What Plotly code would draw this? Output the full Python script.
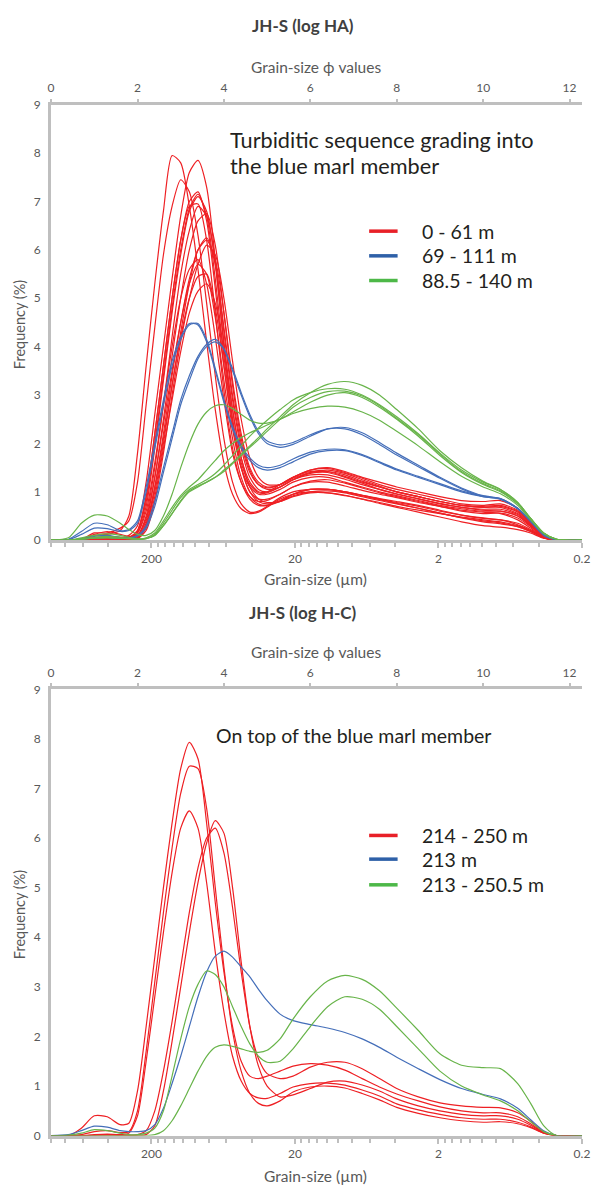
import numpy as np
import plotly.graph_objects as go

# ---------------- data ----------------
# phi grid (grain size in phi units) shared by all curves
PHI = [0, 0.4, 0.7, 1.0, 1.3, 1.6, 1.8,
       2.0, 2.2, 2.4, 2.6, 2.8, 3.0, 3.2, 3.4, 3.6, 3.8,
       4.0, 4.2, 4.4, 4.6, 4.8, 5.0, 5.3, 5.6,
       6.0, 6.4, 6.8, 7.2, 7.6, 8.0, 8.5, 9.0,
       9.5, 10.0, 10.4, 10.8, 11.1, 11.4, 11.7, 12.29]

# Panel 1 : JH-S (log HA)
HA_RED = [
    [0, 0, 0.02, 0.1, 0.12, 0.2, 0.5, 1.8, 3.6, 5.3, 6.8, 7.95, 7.8, 6.9, 5.6, 4.1, 2.7, 1.6, 0.95, 0.65, 0.55, 0.58, 0.68, 0.85, 0.95, 1.0, 0.98, 0.92, 0.85, 0.78, 0.7, 0.62, 0.55, 0.48, 0.42, 0.38, 0.3, 0.2, 0.05, 0, 0],
    [0, 0, 0.02, 0.15, 0.15, 0.25, 0.4, 1.2, 2.8, 4.4, 5.9, 6.9, 7.45, 7.2, 6.3, 4.9, 3.4, 2.1, 1.2, 0.75, 0.58, 0.6, 0.7, 0.88, 1.0, 1.05, 1.05, 1.0, 0.93, 0.85, 0.78, 0.7, 0.6, 0.52, 0.46, 0.42, 0.32, 0.2, 0.05, 0, 0],
    [0, 0, 0, 0.05, 0.05, 0.05, 0.1, 0.3, 1.2, 2.6, 4.0, 5.4, 6.7, 7.6, 7.85, 7.3, 5.8, 4.0, 2.5, 1.5, 1.0, 0.85, 0.85, 0.95, 1.1, 1.2, 1.2, 1.12, 1.03, 0.95, 0.88, 0.78, 0.7, 0.62, 0.58, 0.55, 0.42, 0.25, 0.06, 0, 0],
    [0, 0, 0, 0, 0, 0.02, 0.05, 0.2, 0.9, 2.2, 3.6, 5.0, 6.2, 7.0, 7.2, 6.6, 5.2, 3.6, 2.3, 1.5, 1.1, 0.95, 0.95, 1.05, 1.2, 1.3, 1.3, 1.2, 1.1, 1.0, 0.92, 0.82, 0.72, 0.65, 0.6, 0.6, 0.5, 0.3, 0.08, 0, 0],
    [0, 0, 0, 0, 0, 0, 0.02, 0.15, 0.7, 1.9, 3.3, 4.7, 5.9, 6.8, 7.1, 6.8, 5.7, 4.1, 2.7, 1.7, 1.2, 1.0, 1.0, 1.15, 1.3, 1.42, 1.42, 1.32, 1.2, 1.1, 1.0, 0.9, 0.8, 0.72, 0.68, 0.68, 0.55, 0.32, 0.08, 0, 0],
    [0, 0, 0, 0.02, 0.03, 0.02, 0.03, 0.1, 0.5, 1.5, 2.8, 4.2, 5.5, 6.4, 6.9, 6.7, 5.8, 4.3, 2.9, 1.9, 1.3, 1.05, 1.0, 1.1, 1.25, 1.38, 1.4, 1.3, 1.18, 1.05, 0.95, 0.85, 0.75, 0.68, 0.62, 0.6, 0.5, 0.3, 0.08, 0, 0],
    [0, 0, 0, 0, 0, 0, 0.02, 0.08, 0.4, 1.3, 2.5, 3.8, 5.0, 6.0, 6.6, 6.75, 6.1, 4.7, 3.2, 2.1, 1.45, 1.15, 1.05, 1.1, 1.25, 1.4, 1.45, 1.38, 1.25, 1.12, 1.0, 0.9, 0.8, 0.72, 0.7, 0.72, 0.6, 0.35, 0.1, 0, 0],
    [0, 0, 0, 0, 0, 0, 0.01, 0.05, 0.3, 1.1, 2.2, 3.4, 4.5, 5.4, 6.0, 6.2, 5.8, 4.7, 3.3, 2.2, 1.5, 1.2, 1.1, 1.15, 1.3, 1.45, 1.48, 1.4, 1.28, 1.15, 1.05, 0.95, 0.85, 0.75, 0.72, 0.75, 0.62, 0.36, 0.1, 0, 0],
    [0, 0, 0, 0, 0, 0, 0, 0.03, 0.2, 0.8, 1.8, 3.0, 4.1, 5.0, 5.7, 6.1, 5.9, 5.0, 3.7, 2.5, 1.7, 1.3, 1.15, 1.15, 1.28, 1.4, 1.42, 1.35, 1.22, 1.1, 1.0, 0.9, 0.8, 0.72, 0.68, 0.7, 0.58, 0.34, 0.09, 0, 0],
    [0, 0, 0.02, 0.12, 0.18, 0.12, 0.08, 0.1, 0.45, 1.3, 2.4, 3.5, 4.5, 5.3, 5.7, 5.5, 4.6, 3.3, 2.1, 1.3, 0.9, 0.75, 0.72, 0.8, 0.95, 1.05, 1.05, 1.0, 0.93, 0.86, 0.8, 0.72, 0.62, 0.52, 0.45, 0.42, 0.35, 0.22, 0.06, 0, 0],
    [0, 0, 0, 0.03, 0.05, 0.03, 0.03, 0.05, 0.35, 1.1, 2.1, 3.2, 4.2, 5.0, 5.45, 5.5, 4.8, 3.6, 2.4, 1.5, 1.0, 0.8, 0.75, 0.8, 0.92, 1.0, 1.02, 0.98, 0.9, 0.82, 0.75, 0.66, 0.56, 0.46, 0.38, 0.34, 0.28, 0.18, 0.05, 0, 0],
    [0, 0, 0, 0, 0, 0, 0, 0.04, 0.25, 0.9, 1.9, 2.9, 3.9, 4.7, 5.15, 5.3, 4.9, 3.9, 2.7, 1.7, 1.1, 0.85, 0.78, 0.8, 0.9, 0.98, 0.98, 0.93, 0.85, 0.76, 0.68, 0.58, 0.48, 0.38, 0.3, 0.27, 0.22, 0.15, 0.04, 0, 0],
    [0, 0, 0, 0.05, 0.08, 0.06, 0.06, 0.2, 0.9, 2.2, 3.6, 5.0, 6.2, 6.9, 6.95, 6.2, 4.7, 3.1, 1.9, 1.2, 0.85, 0.72, 0.72, 0.82, 0.95, 1.05, 1.05, 1.0, 0.92, 0.84, 0.76, 0.66, 0.56, 0.47, 0.4, 0.36, 0.28, 0.18, 0.05, 0, 0],
    [0, 0, 0, 0, 0, 0, 0.01, 0.05, 0.3, 1.0, 2.0, 3.2, 4.3, 5.3, 6.0, 6.25, 5.7, 4.4, 3.0, 2.0, 1.4, 1.15, 1.08, 1.15, 1.3, 1.45, 1.5, 1.42, 1.3, 1.2, 1.1, 1.0, 0.9, 0.82, 0.8, 0.82, 0.66, 0.38, 0.1, 0, 0],
    [0, 0, 0, 0, 0, 0, 0.03, 0.15, 0.6, 1.6, 2.8, 4.0, 5.0, 5.6, 5.8, 5.3, 4.2, 2.9, 1.8, 1.2, 0.9, 0.8, 0.82, 0.95, 1.1, 1.22, 1.25, 1.18, 1.08, 0.98, 0.9, 0.8, 0.7, 0.6, 0.55, 0.56, 0.46, 0.28, 0.07, 0, 0],
    [0, 0, 0, 0, 0, 0, 0.02, 0.18, 0.8, 2.0, 3.4, 4.8, 6.0, 6.85, 7.15, 6.7, 5.4, 3.8, 2.5, 1.6, 1.15, 0.98, 0.98, 1.1, 1.25, 1.35, 1.35, 1.26, 1.15, 1.05, 0.96, 0.86, 0.76, 0.68, 0.64, 0.64, 0.53, 0.31, 0.08, 0, 0],
]
HA_BLUE = [
    [0, 0.02, 0.18, 0.35, 0.32, 0.2, 0.22, 0.4, 1.1, 2.0, 2.9, 3.7, 4.2, 4.48, 4.45, 4.1, 3.5, 2.85, 2.3, 1.9, 1.65, 1.5, 1.45, 1.5, 1.62, 1.78, 1.85, 1.85, 1.75, 1.6, 1.45, 1.3, 1.15, 1.0, 0.9, 0.85, 0.65, 0.38, 0.1, 0.01, 0],
    [0, 0.01, 0.12, 0.25, 0.24, 0.18, 0.2, 0.35, 1.0, 1.9, 2.8, 3.6, 4.15, 4.45, 4.48, 4.15, 3.55, 2.9, 2.35, 1.95, 1.7, 1.55, 1.5, 1.55, 1.68, 1.82, 1.88, 1.87, 1.77, 1.62, 1.47, 1.32, 1.17, 1.02, 0.91, 0.86, 0.66, 0.39, 0.11, 0.01, 0],
    [0, 0, 0.03, 0.08, 0.1, 0.06, 0.05, 0.1, 0.3, 0.8, 1.5, 2.2, 2.9, 3.4, 3.8, 4.05, 4.15, 3.95, 3.5, 3.0, 2.55, 2.2, 2.0, 1.92, 1.98, 2.15, 2.3, 2.33, 2.22, 2.02, 1.8, 1.55, 1.3, 1.08, 0.92, 0.86, 0.66, 0.4, 0.12, 0.01, 0],
    [0, 0, 0.02, 0.05, 0.06, 0.04, 0.04, 0.08, 0.25, 0.7, 1.4, 2.1, 2.8, 3.3, 3.75, 4.0, 4.1, 3.95, 3.55, 3.05, 2.6, 2.25, 2.05, 1.97, 2.02, 2.18, 2.3, 2.3, 2.18, 1.98, 1.76, 1.52, 1.28, 1.06, 0.9, 0.85, 0.65, 0.4, 0.12, 0.01, 0],
]
HA_GREEN = [
    [0, 0.05, 0.35, 0.52, 0.5, 0.35, 0.22, 0.12, 0.1, 0.2, 0.5, 0.95, 1.5, 2.0, 2.4, 2.65, 2.78, 2.8, 2.72, 2.6, 2.48, 2.42, 2.42, 2.5, 2.65, 2.85, 3.0, 3.05, 2.95, 2.75, 2.5, 2.15, 1.75, 1.4, 1.15, 1.0, 0.75, 0.45, 0.15, 0.02, 0],
    [0, 0, 0.05, 0.1, 0.13, 0.1, 0.06, 0.03, 0.04, 0.1, 0.3, 0.55, 0.8, 1.0, 1.1, 1.2, 1.3, 1.45, 1.6, 1.78, 1.95, 2.12, 2.3, 2.55, 2.8, 3.05, 3.22, 3.28, 3.2, 3.0, 2.7, 2.3, 1.85, 1.5, 1.22, 1.05, 0.78, 0.45, 0.15, 0.02, 0],
    [0, 0, 0.03, 0.06, 0.08, 0.06, 0.04, 0.02, 0.03, 0.12, 0.35, 0.62, 0.88, 1.05, 1.15, 1.25, 1.38, 1.55, 1.75, 1.95, 2.15, 2.32, 2.48, 2.7, 2.9, 3.05, 3.13, 3.12, 3.0, 2.8, 2.55, 2.2, 1.8, 1.45, 1.2, 1.05, 0.78, 0.45, 0.15, 0.02, 0],
    [0, 0, 0.02, 0.04, 0.05, 0.04, 0.03, 0.02, 0.03, 0.1, 0.3, 0.55, 0.82, 1.02, 1.12, 1.2, 1.3, 1.42, 1.58, 1.75, 1.92, 2.08, 2.25, 2.5, 2.75, 2.95, 3.07, 3.08, 2.98, 2.78, 2.52, 2.18, 1.78, 1.42, 1.17, 1.02, 0.76, 0.44, 0.14, 0.02, 0],
    [0, 0, 0.02, 0.05, 0.06, 0.04, 0.03, 0.02, 0.05, 0.15, 0.4, 0.68, 0.92, 1.1, 1.25, 1.45, 1.65, 1.85, 2.0, 2.12, 2.22, 2.3, 2.38, 2.5, 2.62, 2.72, 2.77, 2.75, 2.65, 2.48, 2.25, 1.95, 1.62, 1.32, 1.1, 0.96, 0.72, 0.42, 0.14, 0.02, 0],
]

# Panel 2 : JH-S (log H-C)
HC_RED = [
    [0, 0, 0.15, 0.4, 0.38, 0.22, 0.25, 0.9, 2.2, 3.6, 5.0, 6.3, 7.4, 7.93, 7.6, 6.3, 4.7, 3.3, 2.2, 1.5, 1.2, 1.15, 1.2, 1.3, 1.4, 1.45, 1.42, 1.32, 1.15, 0.98, 0.84, 0.7, 0.58, 0.5, 0.46, 0.46, 0.38, 0.24, 0.07, 0, 0],
    [0, 0, 0.02, 0.08, 0.1, 0.06, 0.08, 0.5, 1.7, 3.1, 4.5, 5.8, 6.9, 7.45, 7.4, 6.6, 5.0, 3.4, 2.1, 1.3, 0.85, 0.65, 0.6, 0.7, 0.88, 0.98, 1.0, 0.96, 0.85, 0.72, 0.57, 0.45, 0.36, 0.3, 0.27, 0.28, 0.24, 0.16, 0.05, 0, 0],
    [0, 0, 0, 0.02, 0.03, 0.02, 0.05, 0.4, 1.5, 2.8, 4.1, 5.3, 6.2, 6.55, 6.2, 5.1, 3.7, 2.5, 1.6, 1.1, 0.85, 0.76, 0.75, 0.85, 0.98, 1.05, 1.06, 1.02, 0.92, 0.8, 0.64, 0.52, 0.43, 0.36, 0.33, 0.33, 0.27, 0.18, 0.05, 0, 0],
    [0, 0, 0, 0, 0, 0, 0, 0, 0.02, 0.2, 0.9, 1.9, 3.0, 4.1, 5.1, 5.9, 6.35, 6.1, 5.0, 3.5, 2.2, 1.4, 1.0, 0.78, 0.82, 0.95, 1.08, 1.1, 1.02, 0.9, 0.74, 0.6, 0.5, 0.43, 0.4, 0.4, 0.33, 0.21, 0.06, 0, 0],
    [0, 0, 0, 0.01, 0.02, 0.01, 0.01, 0.02, 0.1, 0.5, 1.3, 2.3, 3.4, 4.5, 5.4, 6.0, 6.2, 5.7, 4.6, 3.3, 2.2, 1.55, 1.25, 1.15, 1.2, 1.38, 1.48, 1.48, 1.35, 1.15, 0.95, 0.78, 0.66, 0.6, 0.57, 0.56, 0.46, 0.29, 0.08, 0, 0],
]
HC_BLUE = [
    [0, 0.02, 0.1, 0.19, 0.17, 0.1, 0.08, 0.08, 0.1, 0.22, 0.55, 1.05, 1.6, 2.2, 2.8, 3.3, 3.62, 3.72, 3.6, 3.4, 3.2, 2.95, 2.72, 2.45, 2.32, 2.24, 2.17, 2.08, 1.95, 1.78, 1.58, 1.35, 1.13, 0.95, 0.83, 0.74, 0.55, 0.32, 0.1, 0, 0],
]
HC_GREEN = [
    [0, 0.01, 0.05, 0.12, 0.1, 0.05, 0.02, 0.02, 0.05, 0.15, 0.5, 1.2, 1.95, 2.6, 3.05, 3.32, 3.25, 3.0, 2.6, 2.2, 1.85, 1.6, 1.48, 1.5, 1.75, 2.2, 2.6, 2.8, 2.75, 2.55, 2.2, 1.75, 1.3, 1.0, 0.82, 0.7, 0.5, 0.28, 0.08, 0, 0],
    [0, 0, 0, 0, 0, 0, 0, 0, 0, 0.02, 0.1, 0.3, 0.6, 0.95, 1.3, 1.6, 1.78, 1.83, 1.8, 1.75, 1.7, 1.68, 1.72, 1.95, 2.35, 2.8, 3.12, 3.23, 3.15, 2.92, 2.57, 2.12, 1.65, 1.42, 1.37, 1.35, 1.05, 0.65, 0.2, 0, 0],
]

# axis ticks
PHI_TICKS = [0, 2, 4, 6, 8, 10, 12]
UM_TICKS = [200, 20, 2, 0.2]
UM_TICK_LABELS = ["200", "20", "2", "0.2"]
UM_MINOR = [1000, 800, 600, 400,
            180, 160, 140, 120, 100, 80, 60, 40,
            18, 16, 14, 12, 10, 8, 6, 4,
            1.8, 1.6, 1.4, 1.2, 1.0, 0.8, 0.6, 0.4]

HA_LEGEND = ["0 - 61 m", "69 - 111 m", "88.5 - 140 m"]
HC_LEGEND = ["214 - 250 m", "213 m", "213 - 250.5 m"]

# ---------------- styling ----------------
RED = "rgb(238,32,36)"
BLUE = "rgb(68,110,185)"
GREEN = "rgb(104,180,74)"
LEG_COLORS = ["rgb(232,32,40)", "rgb(46,96,168)", "rgb(77,184,72)"]
AX = "#bfbfbf"
TXT = "#595959"
DARK = "#231f20"
FONT = "Lato"
W, H = 598, 1191


def phi_of(um):
    return -np.log2(np.asarray(um, dtype=float) / 1000.0)


XR = [0, float(phi_of(0.2)) + 0.004]
XDOM = [49 / W, 590 / W]


def py(px):
    return 1 - px / H


PANELS = [
    dict(red=HA_RED, blue=HA_BLUE, green=HA_GREEN, top=98, bot=539,
         title="JH-S (log HA)", title_y=18, phi_title_y=60, um_title_y=578,
         note=["Turbiditic sequence grading into", "the blue marl member"],
         note_y=[134, 160], note_x=229, note_size=21.7,
         leg=HA_LEGEND, leg_y=[226, 251, 276]),
    dict(red=HC_RED, blue=HC_BLUE, green=HC_GREEN, top=690, bot=1142,
         title="JH-S (log H-C)", title_y=612, phi_title_y=652, um_title_y=1183,
         note=["On top of the blue marl member"],
         note_y=[737], note_x=215, note_size=19.5,
         leg=HC_LEGEND, leg_y=[838, 862, 888]),
]

fig = go.Figure()
layout = dict(
    width=W, height=H, margin=dict(l=0, r=0, t=0, b=0),
    paper_bgcolor="white", plot_bgcolor="white", showlegend=False,
    font=dict(family=FONT, color=TXT, size=12),
)
annotations = []
shapes = []

for k, p in enumerate(PANELS):
    xb = "x" if k == 0 else "x3"
    xt = "x2" if k == 0 else "x4"
    yy = "y" if k == 0 else "y2"
    xbn = "xaxis" if k == 0 else "xaxis3"
    xtn = "xaxis2" if k == 0 else "xaxis4"
    yn = "yaxis" if k == 0 else "yaxis2"

    for series, col in ((p["red"], RED), (p["blue"], BLUE), (p["green"], GREEN)):
        for ys in series:
            fig.add_trace(go.Scatter(
                x=PHI, y=ys, mode="lines", xaxis=xb, yaxis=yy,
                line=dict(color=col, width=1.2, shape="spline", smoothing=0.7),
                hoverinfo="skip"))

    ydom = [py(p["bot"]), py(p["top"])]
    layout[xbn] = dict(
        domain=XDOM, range=XR, anchor=yy,
        tickmode="array", tickvals=list(phi_of(UM_TICKS)), ticktext=UM_TICK_LABELS,
        ticks="outside", ticklen=5, tickwidth=2, tickcolor=AX,
        showline=True, linecolor=AX, linewidth=3, showgrid=False, zeroline=False,
        ticklabeloverflow="allow",
        tickfont=dict(size=12, color=TXT, family=FONT),
        minor=dict(tickmode="array", tickvals=list(phi_of(UM_MINOR)),
                   ticks="outside", ticklen=4, tickwidth=1.5, tickcolor=AX, showgrid=False),
    )
    layout[xtn] = dict(
        domain=XDOM, range=XR, anchor=yy, overlaying=xb, side="top",
        tickmode="array", tickvals=PHI_TICKS,
        ticks="outside", ticklen=3, tickwidth=2, tickcolor=AX,
        showline=True, linecolor=AX, linewidth=3, showgrid=False, zeroline=False,
        ticklabelstandoff=2, ticklabeloverflow="allow",
        tickfont=dict(size=12, color=TXT, family=FONT),
    )
    layout[yn] = dict(
        domain=ydom, range=[0, 9], anchor=xb, tickmode="linear", tick0=0, dtick=1,
        ticks="", showline=True, linecolor=AX, linewidth=3, showgrid=False,
        zeroline=False, ticklabelstandoff=5,
        tickfont=dict(size=12, color=TXT, family=FONT),
    )
    # invisible trace to activate the top axis
    fig.add_trace(go.Scatter(x=[XR[0]], y=[0], xaxis=xt, yaxis=yy, mode="markers",
                             marker=dict(opacity=0), hoverinfo="skip"))

    annotations += [
        dict(text="<b>" + p["title"] + "</b>", x=306 / W, y=py(p["title_y"]),
             xref="paper", yref="paper", showarrow=False, xanchor="center",
             yanchor="middle", font=dict(size=17, color="#404040", family=FONT)),
        dict(text="Grain-size \u03d5 values", x=319 / W, y=py(p["phi_title_y"]),
             xref="paper", yref="paper", showarrow=False, xanchor="center",
             yanchor="middle", font=dict(size=15.5, color=TXT, family=FONT)),
        dict(text="Grain-size (\u00b5m)", x=318 / W, y=py(p["um_title_y"]),
             xref="paper", yref="paper", showarrow=False, xanchor="center",
             yanchor="middle", font=dict(size=15.5, color=TXT, family=FONT)),
        dict(text="Frequency (%)", x=17 / W, y=(ydom[0] + ydom[1]) / 2 - 2 / H,
             xref="paper", yref="paper", showarrow=False, xanchor="center",
             yanchor="middle", textangle=-90, font=dict(size=14.5, color=TXT, family=FONT)),
    ]
    for line, ly in zip(p["note"], p["note_y"]):
        annotations.append(dict(text=line, x=p["note_x"] / W, y=py(ly), xref="paper",
                                yref="paper", showarrow=False, xanchor="left",
                                yanchor="middle",
                                font=dict(size=p["note_size"], color=DARK, family=FONT)))
    for lab, ly, col in zip(p["leg"], p["leg_y"], LEG_COLORS):
        shapes.append(dict(type="line", xref="paper", yref="paper",
                           x0=373 / W, x1=402 / W, y0=py(ly), y1=py(ly),
                           line=dict(color=col, width=3.5)))
        annotations.append(dict(text=lab, x=425 / W, y=py(ly), xref="paper", yref="paper",
                                showarrow=False, xanchor="left", yanchor="middle",
                                font=dict(size=19.5, color=DARK, family=FONT)))

layout["annotations"] = annotations
layout["shapes"] = shapes
fig.update_layout(**layout)
fig.write_html("out.html")
